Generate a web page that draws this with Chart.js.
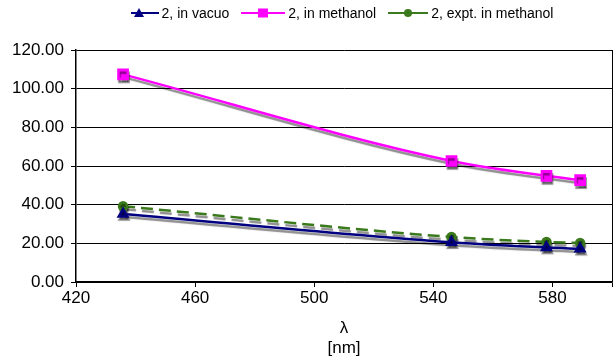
<!DOCTYPE html>
<html>
<head>
<meta charset="utf-8">
<script src="https://cdn.jsdelivr.net/npm/chart.js@4/dist/chart.umd.min.js"></script>
<style>
  body { margin: 0; background: #fff; }
  #wrap { position: relative; width: 614px; height: 358px; }
  #legend {
    position: absolute; top: 5px; left: 0; width: 614px;
    display: flex; justify-content: center; gap: 12px;
    font-family: "Liberation Sans", Arial, sans-serif; font-size: 14px; color: #000;
    padding-left: 70px; box-sizing: border-box;
  }
  #legend span.item { display: flex; align-items: center; gap: 3px; }
</style>
</head>
<body>
<div id="wrap">
  <canvas id="graph01" width="614" height="358"></canvas>
  <div id="legend">
    <span class="item">
      <svg width="28" height="12"><line x1="0" y1="6" x2="28" y2="6" stroke="#000080" stroke-width="2"/><polygon points="8,1 13,10 3,10" fill="#000080"/></svg>2, in vacuo</span>
    <span class="item">
      <svg width="44" height="12"><line x1="0" y1="6" x2="44" y2="6" stroke="#ff00ff" stroke-width="2"/><rect x="17" y="1.5" width="10" height="9" fill="#ff00ff"/></svg>2, in methanol</span>
    <span class="item">
      <svg width="40" height="12"><line x1="0" y1="6" x2="40" y2="6" stroke="#3a7a1c" stroke-width="2"/><circle cx="20" cy="6" r="4" fill="#3a7a1c"/></svg>2, expt. in methanol</span>
  </div>
</div>
<script>
const wavelengths = [435.8, 546.1, 578.0, 589.3];
const inVacuo = [35.2, 20.5, 17.8, 17.2];
const inMethanol = [107.4, 62.6, 54.9, 52.7];
const exptMethanol = [39.2, 23.3, 20.7, 20.2];

const xTicks = [420, 460, 500, 540, 580];
const yTicks = [0, 20, 40, 60, 80, 100, 120];

const toPoints = vals => vals.map((v, i) => ({ x: wavelengths[i], y: v }));

const shadow = {
  id: 'shadow',
  beforeDatasetsDraw(chart) {
    const ctx = chart.ctx;
    ctx.save();
    ctx.shadowColor = 'rgba(0,0,0,0.45)';
    ctx.shadowOffsetX = 1;
    ctx.shadowOffsetY = 3;
    ctx.shadowBlur = 1;
  },
  afterDatasetsDraw(chart) {
    chart.ctx.restore();
  }
};

const line01 = document.getElementById('graph01');

new Chart(line01, {
  type: 'line',
  data: {
    datasets: [
      {
        label: '2, in vacuo',
        data: toPoints(inVacuo),
        borderColor: '#000080',
        backgroundColor: '#000080',
        borderWidth: 2.5,
        pointStyle: 'triangle',
        pointRadius: 5,
        cubicInterpolationMode: 'monotone'
      },
      {
        label: '2, in methanol',
        data: toPoints(inMethanol),
        borderColor: '#ff00ff',
        backgroundColor: '#ff00ff',
        borderWidth: 2.5,
        pointStyle: 'rect',
        pointRadius: 6.5,
        cubicInterpolationMode: 'monotone'
      },
      {
        label: '2, expt. in methanol',
        data: toPoints(exptMethanol),
        borderColor: '#3a7a1c',
        backgroundColor: '#3a7a1c',
        borderWidth: 2.5,
        borderDash: [12, 6],
        pointStyle: 'circle',
        pointRadius: 4,
        cubicInterpolationMode: 'monotone'
      }
    ]
  },
  plugins: [shadow],
  options: {
    responsive: false,
    animation: false,
    layout: { autoPadding: false, padding: { top: 50, right: 2, left: 0, bottom: 0 } },
    plugins: {
      legend: { display: false },
      tooltip: { enabled: false }
    },
    scales: {
      x: {
        type: 'linear',
        min: 420,
        max: 600,
        afterBuildTicks: axis => { axis.ticks = xTicks.concat([600]).map(v => ({ value: v })); },
        ticks: {
          color: '#000',
          font: { family: 'Liberation Sans', size: 17 },
          maxRotation: 0,
          padding: 1,
          callback: v => (v === 600 ? '' : v)
        },
        grid: {
          color: c => (c.tick && c.tick.value === 600 ? '#000' : 'rgba(0,0,0,0)'),
          tickColor: '#000',
          tickLength: 5
        },
        border: { color: '#000', width: 1.5 },
        title: {
          display: true,
          text: ['λ', '[nm]'],
          color: '#000',
          font: { family: 'Liberation Sans', size: 17, lineHeight: 1.15 },
          padding: { top: 0, bottom: 0 }
        },
        afterFit: axis => { axis.height = 76; }
      },
      y: {
        min: 0,
        max: 120,
        afterBuildTicks: axis => { axis.ticks = yTicks.map(v => ({ value: v })); },
        ticks: {
          color: '#000',
          font: { family: 'Liberation Sans', size: 17 },
          padding: 7,
          callback: v => v.toFixed(2)
        },
        grid: { color: '#000', tickColor: '#000', tickLength: 5, lineWidth: 1 },
        border: { color: '#000', width: 1.5 },
        afterFit: axis => { axis.width = 76; }
      }
    }
  }
});
</script>
</body>
</html>
